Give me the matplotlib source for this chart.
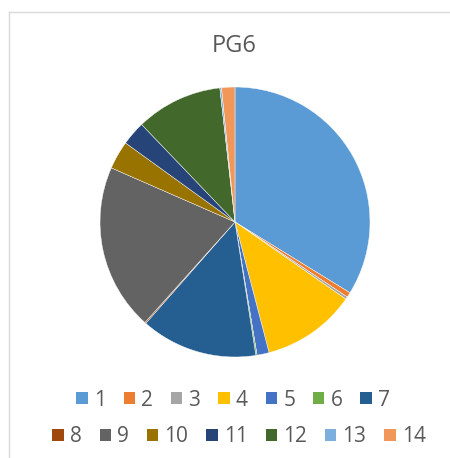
import matplotlib.pyplot as plt
from matplotlib.lines import Line2D
from matplotlib.patches import Patch

labels = ["1", "2", "3", "4", "5", "6", "7", "8", "9", "10", "11", "12", "13", "14"]
values = [33.9, 0.6, 0.3, 11.3, 1.45, 0.15, 14.0, 0.15, 20.0, 3.4, 2.9, 10.4, 0.2, 1.6]
colors = ["#5B9BD5", "#ED7D31", "#A5A5A5", "#FFC000", "#4472C4", "#70AD47", "#255E91",
          "#9E480E", "#636363", "#997300", "#264478", "#43682B", "#7CAFDD", "#F1975A"]
title = "PG6"

W, H = 450, 458
fig = plt.figure(figsize=(W / 100, H / 100), dpi=100)

# pie: centre (235, 222), radius 135 px
cx, cy, r = 235, 222, 135
ax = fig.add_axes([(cx - r) / W, (H - cy - r) / H, 2 * r / W, 2 * r / H])
ax.pie(values, colors=colors, startangle=90, counterclock=False,
       wedgeprops=dict(linewidth=0.3, edgecolor="white"))
ax.set_aspect("equal")
ax.set_xlim(-1, 1)
ax.set_ylim(-1, 1)
ax.axis("off")

fig.text(234 / W, 1 - 46 / H, title, ha="center", va="center",
         fontsize=17, color="#595959", family="Open Sans")

# legend in two rows, like the original
txt_color = "#595959"
for row, xpix, ypix in [(0, 233, 400), (1, 239, 437)]:
    idx = range(row * 7, row * 7 + 7)
    handles = [Patch(facecolor=colors[i], edgecolor="none") for i in idx]
    leg = fig.legend(handles, [labels[i] for i in idx], ncol=7,
                     loc="center", bbox_to_anchor=(xpix / W, 1 - ypix / H),
                     frameon=False, handlelength=0.55, handleheight=0.55,
                     handletextpad=0.3, columnspacing=0.85,
                     borderpad=0, borderaxespad=0,
                     prop={"family": "Open Sans", "size": 15})
    for t in leg.get_texts():
        t.set_color(txt_color)

# frame lines (chart is cropped at right and bottom)
fig.add_artist(Line2D([9 / W, 1], [1 - 12 / H, 1 - 12 / H], color="#D9D9D9", lw=1))
fig.add_artist(Line2D([9 / W, 9 / W], [0, 1 - 12 / H], color="#D9D9D9", lw=1))

fig.savefig("out.png", dpi=100, facecolor="white")
